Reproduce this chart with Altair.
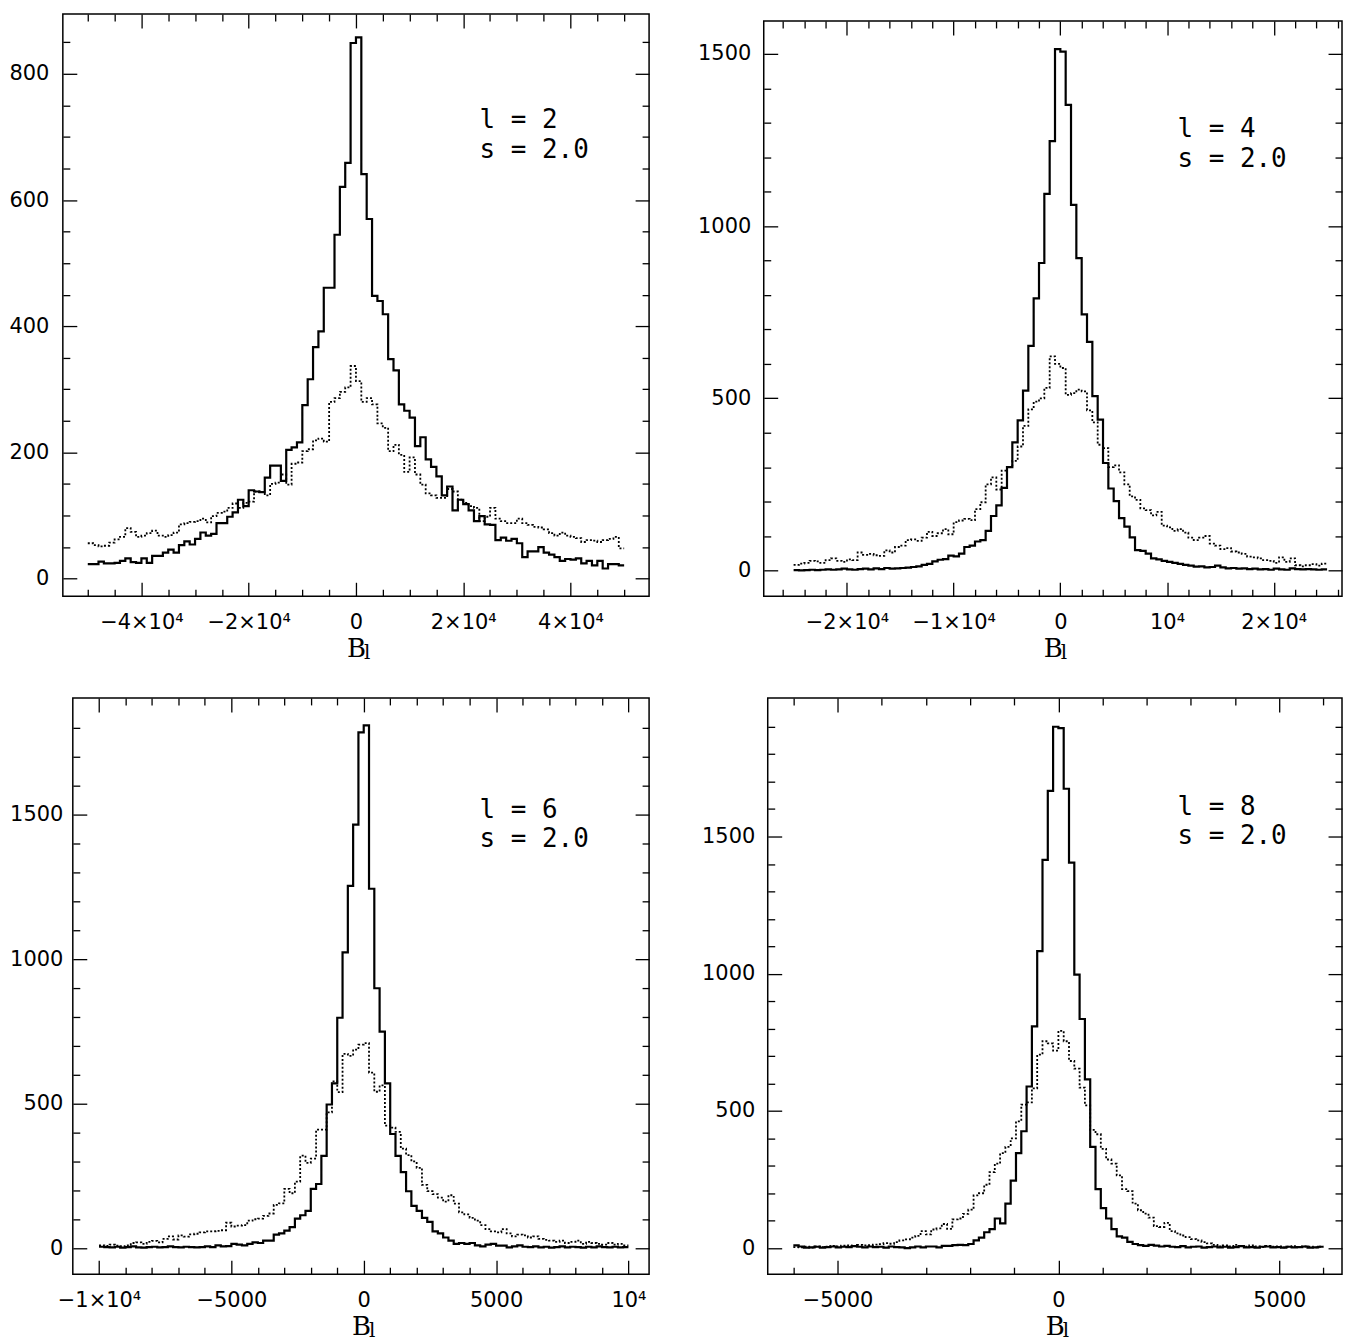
import altair as alt
import pandas as pd

# ---------------- data ----------------
P1_RANGE = [-50000, 50000]
P1_SOLID = [23, 23, 27, 24, 24, 25, 28, 32, 26, 25,
            32, 25, 36, 36, 41, 46, 41, 53, 59, 54,
            63, 73, 68, 71, 88, 88, 98, 105, 125, 115,
            140, 138, 137, 160, 179, 179, 155, 204, 208, 216,
            275, 316, 367, 392, 461, 461, 545, 621, 659, 849,
            858, 641, 570, 448, 440, 419, 348, 330, 276, 266,
            255, 210, 224, 189, 177, 162, 132, 146, 108, 125,
            118, 108, 91, 99, 86, 85, 61, 65, 60, 63,
            56, 34, 43, 43, 50, 41, 38, 34, 28, 31,
            30, 32, 24, 28, 21, 28, 16, 23, 23, 21]
P1_DOTTED = [56, 53, 51, 52, 57, 62, 66, 80, 74, 66,
             68, 72, 76, 68, 66, 69, 73, 86, 88, 90,
             91, 95, 89, 99, 104, 106, 112, 119, 112, 120,
             122, 138, 137, 132, 150, 152, 165, 149, 182, 184,
             202, 205, 219, 222, 217, 280, 286, 296, 303, 337,
             313, 280, 286, 276, 246, 239, 202, 212, 196, 169,
             192, 165, 149, 135, 132, 128, 128, 142, 138, 125,
             120, 115, 112, 91, 98, 112, 95, 91, 88, 88,
             95, 88, 85, 82, 81, 78, 72, 68, 73, 68,
             66, 64, 58, 61, 60, 58, 61, 63, 66, 48]

P2_RANGE = [-25000, 25000]
P2_SOLID = [1, 0, 1, 2, 1, 2, 3, 2, 3, 5,
            3, 2, 4, 5, 3, 6, 4, 7, 5, 6,
            7, 8, 10, 12, 16, 19, 26, 31, 33, 43,
            41, 49, 68, 72, 84, 88, 115, 158, 189, 240,
            300, 372, 436, 522, 652, 790, 893, 1094, 1247, 1514,
            1507, 1352, 1062, 907, 744, 664, 506, 438, 312, 238,
            201, 152, 127, 96, 59, 57, 49, 35, 32, 28,
            25, 22, 19, 16, 14, 11, 12, 9, 10, 14,
            9, 6, 7, 5, 6, 4, 5, 3, 4, 2,
            5, 3, 2, 6, 4, 3, 4, 3, 2, 3]
P2_DOTTED = [16, 20, 22, 28, 26, 22, 30, 35, 28, 25,
             32, 30, 52, 45, 48, 44, 42, 58, 52, 68,
             72, 88, 90, 86, 95, 112, 100, 108, 120, 105,
             140, 145, 150, 146, 178, 198, 250, 270, 235, 290,
             300, 318, 360, 420, 468, 490, 500, 530, 622, 600,
             588, 510, 515, 525, 520, 465, 430, 365, 355, 300,
             305, 285, 250, 215, 205, 180, 175, 160, 170, 130,
             125, 115, 120, 110, 95, 88, 95, 100, 78, 72,
             62, 65, 55, 52, 48, 40, 38, 35, 30, 28,
             22, 38, 25, 35, 15, 12, 15, 18, 14, 20]

P3_RANGE = [-10000, 10000]
P3_SOLID = [5, 4, 3, 5, 2, 4, 6, 3, 2, 4,
            5, 3, 4, 6, 4, 3, 5, 4, 3, 4,
            6, 4, 10, 6, 7, 15, 12, 10, 15, 20,
            18, 26, 26, 47, 51, 61, 73, 102, 114, 129,
            205, 222, 319, 497, 570, 797, 1023, 1253, 1465, 1784,
            1808, 1243, 899, 749, 570, 395, 319, 263, 197, 146,
            129, 105, 91, 58, 51, 37, 26, 15, 18, 15,
            18, 10, 6, 12, 15, 9, 9, 3, 6, 10,
            5, 4, 6, 3, 5, 2, 4, 6, 3, 5,
            4, 2, 5, 3, 6, 4, 3, 5, 3, 4]
P3_DOTTED = [10, 8, 12, 9, 7, 10, 18, 20, 15, 22,
             25, 20, 32, 41, 30, 44, 40, 48, 50, 55,
             58, 58, 60, 62, 88, 75, 78, 80, 95, 100,
             102, 112, 120, 150, 155, 205, 190, 230, 320, 295,
             310, 410, 410, 470, 577, 540, 672, 665, 687, 704,
             709, 607, 541, 563, 424, 417, 402, 344, 322, 300,
             278, 219, 197, 187, 175, 161, 183, 154, 124, 117,
             105, 95, 80, 66, 58, 55, 66, 51, 41, 47,
             44, 37, 41, 32, 29, 26, 22, 26, 18, 22,
             26, 15, 22, 18, 15, 12, 18, 12, 15, 10]

P4_RANGE = [-6000, 6000]
P4_SOLID = [10, 6, 2, 3, 5, 2, 4, 6, 3, 5,
            4, 7, 5, 3, 6, 4, 5, 2, 6, 4,
            3, 0, 3, 6, 3, 6, 6, 3, 8, 8,
            11, 12, 11, 15, 28, 38, 58, 69, 108, 90,
            162, 246, 346, 426, 589, 808, 1082, 1415, 1666, 1900,
            1895, 1674, 1405, 997, 835, 615, 369, 215, 146, 108,
            69, 43, 38, 23, 15, 11, 8, 12, 9, 6,
            8, 5, 4, 7, 3, 5, 6, 2, 4, 6,
            3, 5, 2, 4, 7, 3, 4, 2, 5, 6,
            3, 4, 2, 5, 3, 4, 6, 2, 3, 5]
P4_DOTTED = [4, 3, 5, 2, 6, 4, 5, 8, 6, 9,
             10, 7, 12, 10, 11, 13, 15, 18, 16, 22,
             28, 32, 38, 45, 62, 50, 68, 72, 88, 70,
             105, 108, 125, 140, 192, 200, 231, 277, 308, 346,
             369, 400, 462, 523, 531, 582, 705, 754, 746, 720,
             792, 754, 682, 654, 585, 520, 431, 415, 362, 323,
             308, 265, 215, 208, 162, 138, 126, 111, 80, 77,
             92, 62, 54, 46, 40, 33, 28, 22, 17, 12,
             6, 10, 6, 12, 8, 5, 10, 6, 4, 8,
             5, 6, 3, 5, 7, 4, 6, 5, 3, 5]

# tick labels
P1_X_TICKS = [-40000, -20000, 0, 20000, 40000]
P1_X_LABELS = ["\u22124\u00d710\u2074", "\u22122\u00d710\u2074", "0", "2\u00d710\u2074", "4\u00d710\u2074"]
P2_X_TICKS = [-20000, -10000, 0, 10000, 20000]
P2_X_LABELS = ["\u22122\u00d710\u2074", "\u22121\u00d710\u2074", "0", "10\u2074", "2\u00d710\u2074"]
P3_X_TICKS = [-10000, -5000, 0, 5000, 10000]
P3_X_LABELS = ["\u22121\u00d710\u2074", "\u22125000", "0", "5000", "10\u2074"]
P4_X_TICKS = [-5000, 0, 5000]
P4_X_LABELS = ["\u22125000", "0", "5000"]
P1_Y_TICKS = [0, 200, 400, 600, 800]
PX_Y_TICKS = [0, 500, 1000, 1500]

NOTES = ["l = 2\ns = 2.0", "l = 4\ns = 2.0", "l = 6\ns = 2.0", "l = 8\ns = 2.0"]
X_TITLE = "B"
X_TITLE_SUB = "l"

for arr in [P1_SOLID, P1_DOTTED, P2_SOLID, P2_DOTTED, P3_SOLID, P3_DOTTED, P4_SOLID, P4_DOTTED]:
    if len(arr) != 100:
        raise ValueError("bad length %d" % len(arr))

# ---------------- helpers ----------------
LABEL_FONT = "DejaVu Sans"
MAJOR, MINOR = 14, 7


def step_frame(rng, vals):
    lo, hi = rng
    n = len(vals)
    w = (hi - lo) / n
    xs = [lo + w * i for i in range(n + 1)]
    ys = list(vals) + [vals[-1]]
    return pd.DataFrame({"B": xs, "N": ys})


def lab_expr(vals, labs):
    s = "''"
    for v, l in reversed(list(zip(vals, labs))):
        s = "(abs(datum.value - (%s)) < 0.5 ? '%s' : %s)" % (v, l, s)
    return s


def tick_axis(orient, offset, values, major_step):
    return alt.Axis(
        orient=orient, offset=offset, values=values, labels=False, domain=False,
        grid=False, ticks=True, tickColor="black", tickWidth=1.3,
        tickSize={"condition": {"test": "abs(datum.value %% %d) < 0.5" % major_step,
                                "value": MAJOR}, "value": MINOR},
        title=None, minExtent=0, maxExtent=0)


def panel(solid_vals, dotted_vals, rng, cfg):
    W, H = cfg["w"], cfg["h"]
    xs = alt.Scale(domain=cfg["xdom"], nice=False, zero=False)
    ys = alt.Scale(domain=cfg["ydom"], nice=False, zero=False)
    solid = step_frame(rng, solid_vals)
    dotted = step_frame(rng, dotted_vals)
    xvals = list(range(-cfg["xtick_lim"], cfg["xtick_lim"] + 1, cfg["xminor"]))
    yvals = list(range(0, cfg["ytick_lim"] + 1, cfg["yminor"]))

    x_lab = alt.Axis(
        orient="bottom", values=cfg["xt"], labelExpr=lab_expr(cfg["xt"], cfg["xl"]),
        ticks=False, tickSize=0, domain=False, grid=False,
        labelFont=LABEL_FONT, labelFontSize=21, labelColor="black", labelPadding=15,
        labelFlush=False, labelOverlap=False,
        title=X_TITLE, titleFont="DejaVu Serif", titleFontSize=26, titleFontWeight="normal",
        titleColor="black", titlePadding=3, minExtent=36, maxExtent=36)
    y_lab = alt.Axis(
        orient="left", values=cfg["yt"], format="d", ticks=False, tickSize=0,
        domain=False, grid=False, labelFont=LABEL_FONT, labelFontSize=21,
        labelColor="black", labelPadding=cfg["lpad"], labelFlush=False,
        title=None, minExtent=cfg["ext"], maxExtent=cfg["ext"])

    dot = alt.Chart(dotted).mark_line(
        interpolate="step-after", color="black", strokeWidth=1.8, strokeDash=[2, 2]
    ).encode(
        x=alt.X("B:Q", scale=xs, axis=tick_axis("top", -H, xvals, cfg["xmajor"])),
        y=alt.Y("N:Q", scale=ys, axis=tick_axis("right", -W, yvals, cfg["ymajor"])),
    )
    sol = alt.Chart(solid).mark_line(
        interpolate="step-after", color="black", strokeWidth=2.2
    ).encode(
        x=alt.X("B:Q", scale=xs, axis=x_lab),
        y=alt.Y("N:Q", scale=ys, axis=y_lab),
    )
    inv = alt.Chart(solid).mark_line(strokeOpacity=0).encode(
        x=alt.X("B:Q", scale=xs, axis=tick_axis("bottom", -H, xvals, cfg["xmajor"])),
        y=alt.Y("N:Q", scale=ys, axis=tick_axis("left", -W, yvals, cfg["ymajor"])),
    )
    note = alt.Chart(pd.DataFrame({"t": [cfg["note"]]})).mark_text(
        align="left", baseline="alphabetic", font="DejaVu Sans Mono", fontSize=26,
        lineBreak="\n", lineHeight=30, color="black"
    ).encode(text="t:N", x=alt.value(cfg["tx"]), y=alt.value(cfg["ty"]))
    sub = alt.Chart(pd.DataFrame({"t": [X_TITLE_SUB]})).mark_text(
        align="left", baseline="alphabetic", font="DejaVu Serif", fontSize=20, color="black"
    ).encode(text="t:N", x=alt.value(W / 2 + 8), y=alt.value(H + 63))
    return alt.layer(dot, sol, inv, note, sub).properties(width=W, height=H).resolve_axis(
        x="independent", y="independent")


p1 = panel(P1_SOLID, P1_DOTTED, P1_RANGE, dict(
    w=588, h=584, xdom=[-54650, 54650], ydom=[-28, 895], xminor=5000, xmajor=20000,
    xtick_lim=50000, yminor=50, ymajor=200, ytick_lim=850, xt=P1_X_TICKS, xl=P1_X_LABELS,
    yt=P1_Y_TICKS, ext=54, lpad=14, note=NOTES[0], tx=418, ty=114))
p2 = panel(P2_SOLID, P2_DOTTED, P2_RANGE, dict(
    w=580, h=577, xdom=[-27800, 26400], ydom=[-75, 1596], xminor=2000, xmajor=10000,
    xtick_lim=26000, yminor=100, ymajor=500, ytick_lim=1500, xt=P2_X_TICKS, xl=P2_X_LABELS,
    yt=PX_Y_TICKS, ext=67, lpad=13, note=NOTES[1], tx=415, ty=116))
p3 = panel(P3_SOLID, P3_DOTTED, P3_RANGE, dict(
    w=578, h=578, xdom=[-10990, 10780], ydom=[-90, 1903], xminor=1000, xmajor=5000,
    xtick_lim=10000, yminor=100, ymajor=500, ytick_lim=1800, xt=P3_X_TICKS, xl=P3_X_LABELS,
    yt=PX_Y_TICKS, ext=64, lpad=10, note=NOTES[2], tx=408, ty=120))
p4 = panel(P4_SOLID, P4_DOTTED, P4_RANGE, dict(
    w=576, h=578, xdom=[-6580, 6420], ydom=[-95, 2005], xminor=1000, xmajor=5000,
    xtick_lim=6000, yminor=100, ymajor=500, ytick_lim=1900, xt=P4_X_TICKS, xl=P4_X_LABELS,
    yt=PX_Y_TICKS, ext=67, lpad=13, note=NOTES[3], tx=411, ty=117))


def spacer():
    # tiny invisible block used only to nudge a panel's position
    return alt.Chart(pd.DataFrame({"v": [0]})).mark_point(opacity=0).encode(
        x=alt.value(0), y=alt.value(0)
    ).properties(width=1, height=1, view=alt.ViewBackground(stroke="transparent"))


top = alt.hconcat(p1, alt.vconcat(spacer(), p2, spacing=6, bounds="flush"), spacing=45)
bottom = alt.hconcat(spacer(), alt.hconcat(p3, p4, spacing=49), spacing=9, bounds="flush")
chart = alt.vconcat(top, bottom, spacing=30).properties(
    padding=0, background="white"
).configure_view(stroke="black", strokeWidth=1.5)

chart.save("out.html", embed_options={"renderer": "svg", "actions": False})
